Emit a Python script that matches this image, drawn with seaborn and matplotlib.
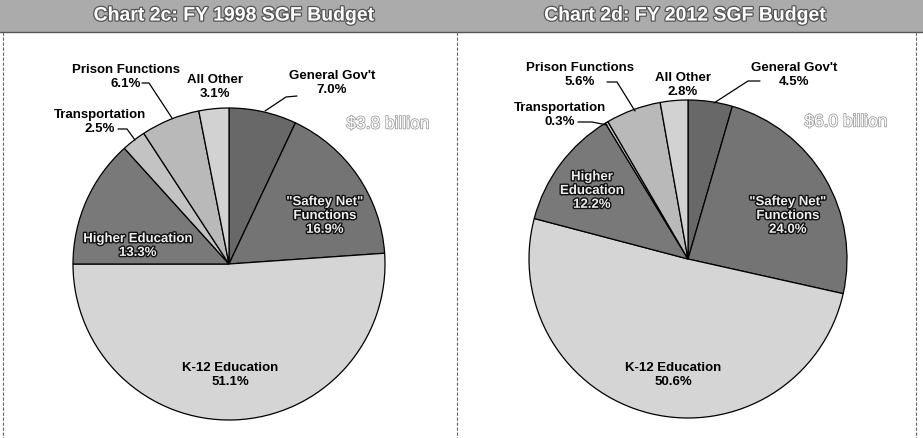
import matplotlib
matplotlib.use("Agg")
import matplotlib.pyplot as plt
import matplotlib.patheffects as pe
from matplotlib.patches import Rectangle
import seaborn as sns

# ---------------- data ----------------
categories = ["General Gov't", "\"Saftey Net\"\nFunctions", "K-12 Education",
              "Higher Education", "Transportation", "Prison Functions", "All Other"]
share_1998 = [7.0, 16.9, 51.1, 13.3, 2.5, 6.1, 3.1]
share_2012 = [4.5, 24.0, 50.6, 12.2, 0.3, 5.6, 2.8]
titles = ["Chart 2c: FY 1998 SGF Budget", "Chart 2d: FY 2012 SGF Budget"]
totals = ["$3.8 billion", "$6.0 billion"]

# ---------------- style ----------------
sns.set_theme(style="white")
plt.rcParams['font.family'] = ['Liberation Sans', 'DejaVu Sans']
slice_colors = ["#686868", "#747474", "#d5d5d5", "#797979", "#c3c3c3", "#b9b9b9", "#d2d2d2"]

W, H = 923, 439
fig = plt.figure(figsize=(W / 100, H / 100), dpi=100)
fig.patch.set_facecolor("white")


def pie_axes(cx, cy, R):
    return fig.add_axes([(cx - R) / W, 1 - (cy + R) / H, 2 * R / W, 2 * R / H])


def draw_pie(ax, values):
    wedges, _ = ax.pie(values, colors=slice_colors, startangle=90, counterclock=False,
                       radius=1.0,
                       wedgeprops=dict(edgecolor="black", linewidth=0.9, clip_on=False))
    ax.set_xlim(-1, 1)
    ax.set_ylim(-1, 1)
    ax.set_axis_off()
    return wedges


axL = pie_axes(229, 265, 156)
draw_pie(axL, share_1998)
axR = pie_axes(688, 260, 159)
draw_pie(axR, share_2012)

# overlay in pixel coordinates
ov = fig.add_axes([0, 0, 1, 1])
ov.set_xlim(0, W)
ov.set_ylim(H, 0)
ov.set_axis_off()
ov.patch.set_alpha(0)

# header band
ov.add_patch(Rectangle((0, 0), W, 33, facecolor="#ababab", edgecolor="none"))
ov.plot([0, W], [33, 33], color="#555555", lw=1.0)
# panel borders
for x in (3, 457, 916):
    ov.plot([x, x], [33, H], color="#666666", lw=0.8, ls=(0, (3, 1.5)))

title_fx = [pe.withStroke(linewidth=1.8, foreground="#555555")]
ov.text(234, 17, titles[0], ha="center", va="center", fontsize=14, fontweight="bold",
        color="white", path_effects=title_fx)
ov.text(685, 17, titles[1], ha="center", va="center", fontsize=14, fontweight="bold",
        color="white", path_effects=title_fx)

lab = dict(ha="center", va="center", fontsize=9.5, fontweight="bold", linespacing=1.2,
           color="black")
halo = dict(ha="center", va="center", fontsize=9.5, fontweight="bold", linespacing=1.2,
            color="#eeeeee", path_effects=[pe.withStroke(linewidth=2.0, foreground="#111111")])
tot = dict(ha="center", va="center", fontsize=12.5, color="white",
           path_effects=[pe.withStroke(linewidth=1.1, foreground="#999999")])


def pct(v):
    return f"{v:.1f}%"


# ---- left pie labels ----
s = share_1998
ov.text(126, 77, f"{categories[5]}\n{pct(s[5])}", **lab)
ov.text(215, 87, f"{categories[6]}\n{pct(s[6])}", **lab)
ov.text(332, 83, f"{categories[0]}\n{pct(s[0])}", **lab)
ov.text(100, 122, f"{categories[4]}\n{pct(s[4])}", **lab)
ov.text(388, 125, totals[0], **tot)
ov.text(138, 247, f"{categories[3]}\n{pct(s[3])}", **halo)
ov.text(325, 217, f"{categories[1]}\n{pct(s[1])}", **halo)
ov.text(230, 375, f"{categories[2]}\n{pct(s[2])}", **lab)
ov.plot([142, 149, 172], [84, 84, 119], color="black", lw=0.9)
ov.plot([118, 127, 135], [130, 130, 141], color="black", lw=0.9)
ov.plot([297, 286, 265], [97, 98, 112], color="black", lw=0.9)

# ---- right pie labels ----
s = share_2012
ov.text(580, 75, f"{categories[5]}\n{pct(s[5])}", **lab)
ov.text(683, 85, f"{categories[6]}\n{pct(s[6])}", **lab)
ov.text(794, 75, f"{categories[0]}\n{pct(s[0])}", **lab)
ov.text(560, 115, f"{categories[4]}\n{pct(s[4])}", **lab)
ov.text(846, 123, totals[1], **tot)
ov.text(592, 192, "Higher\nEducation\n" + pct(s[3]), **halo)
ov.text(788, 217, f"{categories[1]}\n{pct(s[1])}", **halo)
ov.text(673, 375, f"{categories[2]}\n{pct(s[2])}", **lab)
ov.plot([607, 617, 635], [83, 83, 112], color="black", lw=0.9)
ov.plot([578, 592, 607], [123, 123, 126], color="black", lw=0.9)
ov.plot([760, 748, 714], [82, 82, 104], color="black", lw=0.9)

fig.savefig("out.png", dpi=100, facecolor="white")
